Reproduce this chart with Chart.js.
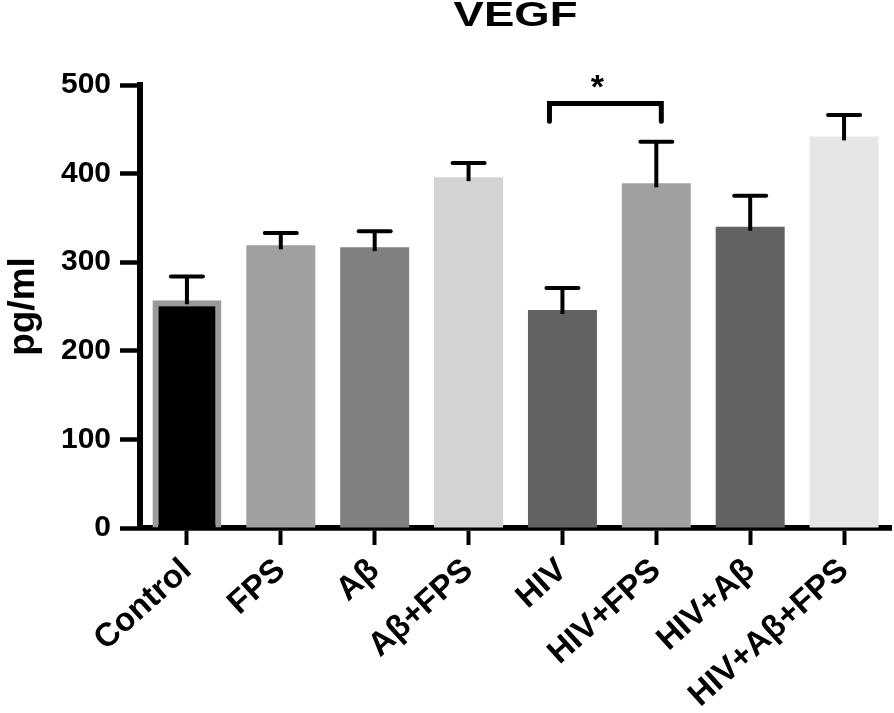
<!DOCTYPE html>
<html>
<head>
<meta charset="utf-8">
<title>VEGF</title>
<script src="https://cdn.jsdelivr.net/npm/chart.js@4"></script>
<style>
  html, body { margin: 0; padding: 0; background: #fff; overflow: hidden; }
  #wrap { width: 894px; height: 713px; }
</style>
</head>
<body>
<div id="wrap"><canvas id="chart"></canvas></div>
<script>
// VEGF (pg/ml), mean and SEM
const groups = ["Control", "FPS", "Aβ", "Aβ+FPS", "HIV", "HIV+FPS", "HIV+Aβ", "HIV+Aβ+FPS"];
const means = [257, 319, 317, 396, 246, 389, 340, 442];
const sem = [27, 14, 18, 16, 25, 47, 35, 24];
const yTicks = [0, 100, 200, 300, 400, 500];

// significance bracket HIV vs HIV+FPS
const sigPair = ["HIV", "HIV+FPS"];
const sigTop = 479;
const sigEnd = 459;
const sigLabel = "*";

const fill = ["#000000", "#a0a0a0", "#808080", "#d3d3d3", "#626262", "#a0a0a0", "#626262", "#e6e6e6"];
const edge = ["#9a9a9a", "#a0a0a0", "#808080", "#d3d3d3", "#626262", "#a0a0a0", "#626262", "#e6e6e6"];

const FONT = "'Liberation Sans', Arial, Helvetica, sans-serif";
Chart.defaults.font.family = FONT;
Chart.defaults.color = "#000";

// title in the figure is set in a wide face: widen the title block sideways
const wideTitle = {
  id: "wideTitle",
  afterLayout(chart) {
    const t = chart.titleBlock;
    if (!t || t._wide) return;
    const draw = t.draw.bind(t);
    t.draw = function (area) {
      const c = chart.ctx;
      const cx = (t.left + t.right) / 2;
      c.save();
      c.translate(cx, 0);
      c.scale(1.3, 1);
      c.translate(-cx, 0);
      draw(area);
      c.restore();
    };
    t._wide = true;
  }
};

// error bars (upper only) + significance bracket
const errorBars = {
  id: "errorBars",
  afterDatasetsDraw(chart) {
    const { ctx, scales: { x, y } } = chart;
    ctx.save();
    ctx.strokeStyle = "#000";
    means.forEach((m, i) => {
      const px = x.getPixelForValue(i);
      const yBar = y.getPixelForValue(m);
      const yTop = y.getPixelForValue(m + sem[i]);
      ctx.lineCap = "butt";
      ctx.lineWidth = 4;
      ctx.beginPath();
      ctx.moveTo(px, yBar + 4);
      ctx.lineTo(px, yTop);
      ctx.stroke();
      ctx.lineCap = "round";
      ctx.lineWidth = 4;
      ctx.beginPath();
      ctx.moveTo(px - 16, yTop);
      ctx.lineTo(px + 16, yTop);
      ctx.stroke();
    });

    const x1 = x.getPixelForValue(groups.indexOf(sigPair[0])) - 13;
    const x2 = x.getPixelForValue(groups.indexOf(sigPair[1])) + 5;
    const yT = y.getPixelForValue(sigTop);
    const yE = y.getPixelForValue(sigEnd);
    ctx.lineCap = "round";
    ctx.lineJoin = "miter";
    ctx.lineWidth = 5;
    ctx.beginPath();
    ctx.moveTo(x1, yE);
    ctx.lineTo(x1, yT);
    ctx.lineTo(x2, yT);
    ctx.lineTo(x2, yE);
    ctx.stroke();
    ctx.fillStyle = "#000";
    ctx.font = "bold 34px " + FONT;
    ctx.textAlign = "center";
    ctx.textBaseline = "alphabetic";
    ctx.fillText(sigLabel, (x1 + x2) / 2 - 8, yT - 6);
    ctx.restore();
  }
};

new Chart(document.getElementById("chart"), {
  type: "bar",
  data: {
    labels: groups,
    datasets: [{
      data: means,
      backgroundColor: fill,
      borderColor: edge,
      borderWidth: [6, 0, 0, 0, 0, 0, 0, 0],
      barPercentage: 0.735,
      categoryPercentage: 1
    }]
  },
  options: {
    responsive: true,
    maintainAspectRatio: false,
    animation: false,
    layout: { padding: { left: 0, right: 3, top: 0, bottom: 0 } },
    plugins: {
      legend: { display: false },
      tooltip: { enabled: false },
      title: {
        display: true,
        text: "VEGF",
        fullSize: false,
        color: "#000",
        font: { size: 35, weight: "bold", lineHeight: 0.95 },
        padding: { top: 0, bottom: 51.75 }
      }
    },
    scales: {
      x: {
        afterFit: s => { s.height = 185; },
        ticks: {
          autoSkip: false,
          maxRotation: 42,
          minRotation: 42,
          padding: 6,
          color: "#000",
          font: { size: 33, weight: "bold" }
        },
        grid: { drawOnChartArea: false, offset: false, tickLength: 17, tickWidth: 4, tickColor: "#000" },
        border: { display: true, width: 5.7, color: "#000" }
      },
      y: {
        min: 0,
        max: 500,
        afterFit: s => { s.width = 140; },
        afterBuildTicks: s => { s.ticks = yTicks.map(v => ({ value: v })); },
        ticks: {
          padding: 9,
          color: "#000",
          font: { size: 30, weight: "bold" }
        },
        grid: { drawOnChartArea: false, tickLength: 20, tickWidth: 4.5, tickColor: "#000" },
        border: { display: true, width: 6, color: "#000" },
        title: {
          display: true,
          text: "pg/ml",
          color: "#000",
          padding: 0,
          font: { size: 37, weight: "bold", lineHeight: 1.3 }
        }
      }
    }
  },
  plugins: [wideTitle, errorBars]
});
</script>
</body>
</html>
